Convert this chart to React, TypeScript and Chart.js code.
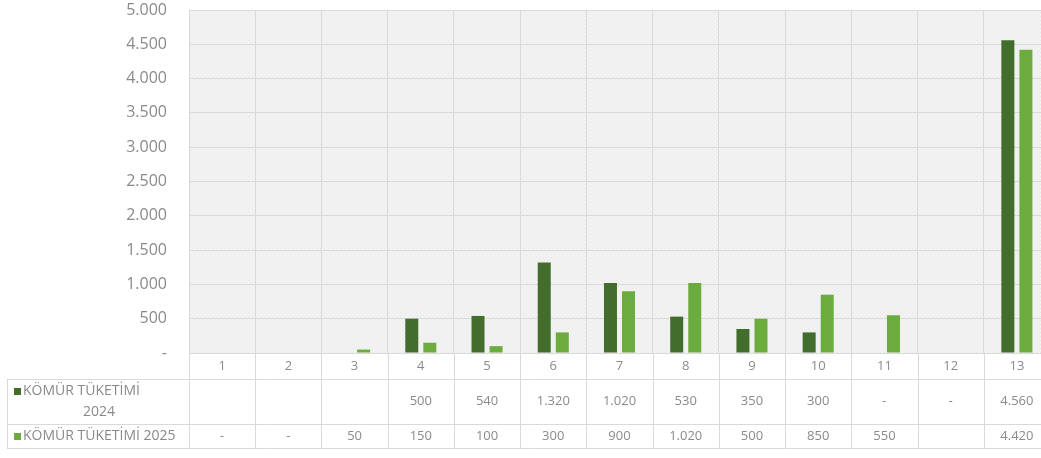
import React, { useEffect, useRef } from 'react';
import { Chart, registerables } from 'chart.js';

Chart.register(...registerables);

const categories = ['1', '2', '3', '4', '5', '6', '7', '8', '9', '10', '11', '12', '13'];
const seriesNames = ['KÖMÜR TÜKETİMİ 2024', 'KÖMÜR TÜKETİMİ 2025'];
const coal2024: (number | null)[] = [null, null, null, 500, 540, 1320, 1020, 530, 350, 300, 0, 0, 4560];
const coal2025: (number | null)[] = [0, 0, 50, 150, 100, 300, 900, 1020, 500, 850, 550, null, 4420];
const yMin = 0;
const yMax = 5000;
const yStep = 500;

const darkGreen = '#426d2c';
const lightGreen = '#6cab3e';
const gridColor = '#d9d9d9';
const textColor = '#8a8a8a';
const FONT = '"Open Sans", "Noto Sans", sans-serif';

function fmt(v: number | null): string {
  if (v === null || v === undefined) return '';
  if (v === 0) return '-';
  return String(v).replace(/\B(?=(\d{3})+(?!\d))/g, '.');
}

function makePattern(ctx: CanvasRenderingContext2D) {
  const c = document.createElement('canvas');
  c.width = 4;
  c.height = 4;
  const p = c.getContext('2d')!;
  p.fillStyle = '#f1f1f1';
  p.fillRect(0, 0, 4, 4);
  p.fillStyle = '#e9e9e9';
  p.fillRect(0, 0, 1, 1);
  p.fillRect(2, 2, 1, 1);
  p.fillStyle = '#f6f6f6';
  p.fillRect(2, 0, 1, 1);
  p.fillRect(0, 2, 1, 1);
  return ctx.createPattern(c, 'repeat');
}

const bgPlugin = {
  id: 'hatchBg',
  beforeDraw(chart: any) {
    const { ctx, chartArea } = chart;
    ctx.save();
    ctx.fillStyle = '#ffffff';
    ctx.fillRect(0, 0, chart.width, chart.height);
    const pat = makePattern(ctx);
    ctx.fillStyle = pat || '#f1f1f1';
    ctx.fillRect(chartArea.left, chartArea.top, chartArea.right - chartArea.left, chartArea.bottom - chartArea.top);
    ctx.restore();
  },
};

const tablePlugin = {
  id: 'dataTable',
  afterDraw(chart: any) {
    const { ctx, chartArea } = chart;
    const left = chartArea.left;
    const right = chartArea.right;
    const n = categories.length;
    const w = (right - left) / n;
    const axisY = chartArea.bottom;
    const row1Top = axisY + 26;
    const row2Top = axisY + 71;
    const bottom = axisY + 95;
    const tableLeft = 7;

    ctx.save();
    ctx.strokeStyle = gridColor;
    ctx.lineWidth = 1;
    ctx.beginPath();
    for (let i = 0; i <= n; i++) {
      const x = Math.round(left + i * w) + 0.5;
      ctx.moveTo(x, axisY);
      ctx.lineTo(x, bottom);
    }
    [row1Top, row2Top, bottom].forEach((y) => {
      ctx.moveTo(tableLeft, Math.round(y) + 0.5);
      ctx.lineTo(right, Math.round(y) + 0.5);
    });
    ctx.moveTo(tableLeft + 0.5, row1Top);
    ctx.lineTo(tableLeft + 0.5, bottom);
    ctx.stroke();

    ctx.fillStyle = textColor;
    ctx.font = `13px ${FONT}`;
    ctx.textAlign = 'center';
    ctx.textBaseline = 'middle';
    const r1c = (row1Top + row2Top) / 2;
    const r2c = (row2Top + bottom) / 2;
    for (let i = 0; i < n; i++) {
      const cx = left + (i + 0.5) * w;
      ctx.fillText(fmt(coal2024[i]), cx, r1c);
      ctx.fillText(fmt(coal2025[i]), cx, r2c);
    }

    // legend keys
    ctx.font = `14px ${FONT}`;
    ctx.textAlign = 'left';
    ctx.fillStyle = darkGreen;
    ctx.fillRect(14, row1Top + 9, 7, 7);
    ctx.fillStyle = textColor;
    const parts = seriesNames[0].split(' ');
    const line1 = parts.slice(0, 2).join(' ');
    const line2 = parts.slice(2).join(' ');
    ctx.fillText(line1, 23, row1Top + 12);
    ctx.textAlign = 'center';
    ctx.fillText(line2, (tableLeft + left) / 2 + 1, row1Top + 33);

    ctx.fillStyle = lightGreen;
    ctx.fillRect(14, r2c - 3, 7, 7);
    ctx.fillStyle = textColor;
    ctx.textAlign = 'left';
    ctx.fillText(seriesNames[1], 23, r2c + 0.5);
    ctx.restore();
  },
};

export default function App() {
  const ref = useRef<HTMLCanvasElement | null>(null);
  useEffect(() => {
    if (!ref.current) return;
    const chart = new Chart(ref.current, {
      type: 'bar',
      data: {
        labels: categories,
        datasets: [
          {
            label: seriesNames[0],
            data: coal2024,
            backgroundColor: darkGreen,
            borderWidth: 0,
            categoryPercentage: 0.545,
            barPercentage: 0.72,
          },
          {
            label: seriesNames[1],
            data: coal2025,
            backgroundColor: lightGreen,
            borderWidth: 0,
            categoryPercentage: 0.545,
            barPercentage: 0.72,
          },
        ],
      },
      options: {
        responsive: false,
        animation: false,
        layout: { padding: { top: 10, right: 10, left: 0, bottom: 0 } },
        plugins: {
          legend: { display: false },
          tooltip: { enabled: false },
        },
        scales: {
          x: {
            afterFit: (s: any) => {
              s.height = 105;
              s.paddingTop = 0;
              s.paddingBottom = 0;
            },
            grid: { color: gridColor, drawTicks: false, offset: true },
            border: { color: gridColor },
            ticks: { color: textColor, font: { family: FONT, size: 13 }, padding: 5 },
          },
          y: {
            min: yMin,
            max: yMax,
            afterFit: (s: any) => {
              s.width = 189;
              s.paddingTop = 0;
              s.paddingBottom = 0;
            },
            grid: { color: gridColor, drawTicks: false },
            border: { color: gridColor },
            ticks: {
              stepSize: yStep,
              color: textColor,
              font: { family: FONT, size: 16 },
              padding: 22,
              callback: (v: any) => fmt(Number(v)),
            },
          },
        },
      },
      plugins: [bgPlugin, tablePlugin],
    });
    return () => chart.destroy();
  }, []);

  return (
    <div
      style={{
        position: 'fixed',
        left: 0,
        top: 0,
        width: 1041,
        height: 458,
        overflow: 'hidden',
        background: '#fff',
      }}
    >
      <canvas ref={ref} width={1060} height={458} style={{ display: 'block', width: 1060, height: 458 }} />
    </div>
  );
}
